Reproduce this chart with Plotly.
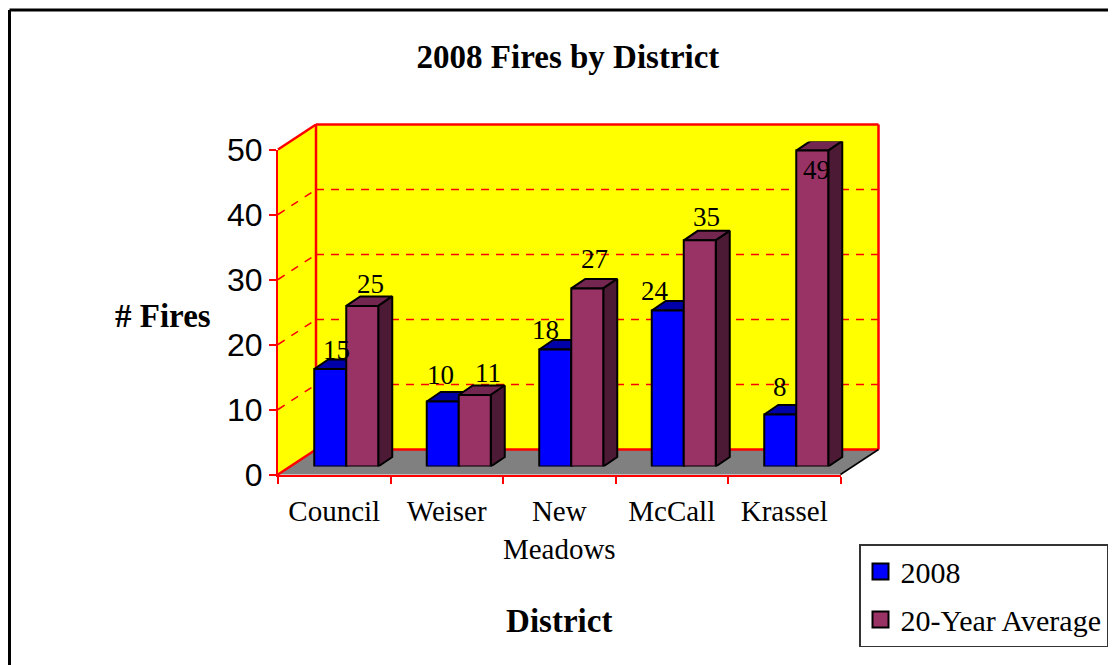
import plotly.graph_objects as go

# the page keeps its default 8px body margin, so the figure is 8px smaller
# and all target pixel positions are shifted by it
PAGE_W, PAGE_H, BODY = 1116, 665, 8
WIDTH, HEIGHT = PAGE_W - BODY, PAGE_H - BODY

districts = ["Council", "Weiser", "New<br>Meadows", "McCall", "Krassel"]
fires_2008 = [15, 10, 18, 24, 8]
fires_avg = [24.7, 11.0, 27.4, 34.8, 48.6]
y_ticks = [0, 10, 20, 30, 40, 50]

# label offsets in px (x, y up), Excel placed these by hand
shift_2008 = [(6, 19), (-2, 27), (-10, 20), (-13, 20), (0, 28)]
shift_avg = [(8, 22), (13, 22), (7, 29), (7, 23), (4, -19)]

SERIF = "Liberation Serif"
BLUE, BLUE_TOP = "#0000ff", "#0000a8"
PLUM, PLUM_TOP, PLUM_SIDE = "#993366", "#722650", "#4d1a36"

# front plane of the axes and the offsets of the fake 3D box, in px
LEFT, RIGHT, BOTTOM, TOP = 278, 840.5, 474.5, 149.5
WALL_DX, WALL_DY = 38, 25
BAR_DX, BAR_DY = 12, 8
DEPTH_X, DEPTH_Y = 14, 9.5

BAR_WIDTH = 32 / ((RIGHT - LEFT) / 5)
unit_x = (RIGHT - LEFT) / 5
unit_y = (BOTTOM - TOP) / 50


def px(x, y):
    return (x - BODY) / WIDTH, 1 - (y - BODY) / HEIGHT


def path(points):
    coords = [px(*p) for p in points]
    return "M" + " L".join(f"{x:.5f},{y:.5f}" for x, y in coords) + " Z"


def line(x0, y0, x1, y1, color="red", width=2.5, dash="solid"):
    a, b = px(x0, y0), px(x1, y1)
    return dict(type="line", xref="paper", yref="paper", layer="below",
                x0=a[0], y0=a[1], x1=b[0], y1=b[1],
                line=dict(color=color, width=width, dash=dash))


def polygon(points, fill, color="rgba(0,0,0,0)", width=0):
    return dict(type="path", xref="paper", yref="paper", layer="below",
                path=path(points), fillcolor=fill,
                line=dict(color=color, width=width))


shapes = [
    polygon([(LEFT, BOTTOM), (LEFT + WALL_DX, BOTTOM - WALL_DY),
             (RIGHT + WALL_DX, BOTTOM - WALL_DY), (RIGHT, BOTTOM)], "#808080"),
    polygon([(LEFT, BOTTOM), (LEFT, TOP), (LEFT + WALL_DX, TOP - WALL_DY),
             (LEFT + WALL_DX, BOTTOM - WALL_DY)], "#ffff00"),
    polygon([(LEFT + WALL_DX, TOP - WALL_DY), (RIGHT + WALL_DX, TOP - WALL_DY),
             (RIGHT + WALL_DX, BOTTOM - WALL_DY), (LEFT + WALL_DX, BOTTOM - WALL_DY)], "#ffff00"),
]

# dashed gridlines on both walls
for tick in y_ticks[1:-1]:
    y = BOTTOM - tick * unit_y
    shapes.append(line(LEFT, y, LEFT + WALL_DX, y - WALL_DY, width=1.5, dash="8px,8px"))
    shapes.append(line(LEFT + WALL_DX, y - WALL_DY, RIGHT + WALL_DX, y - WALL_DY,
                       width=1.5, dash="8px,7px"))

# wall edges
wx, wt, wb = LEFT + WALL_DX, TOP - WALL_DY, BOTTOM - WALL_DY
shapes += [
    line(LEFT, TOP, wx, wt),
    line(wx, wt, RIGHT + WALL_DX, wt),
    line(wx, wt, wx, wb),
    line(RIGHT + WALL_DX, wt, RIGHT + WALL_DX, wb),
    line(wx, wb, RIGHT + WALL_DX, wb),
    line(LEFT, BOTTOM, wx, wb),
    line(RIGHT, BOTTOM, RIGHT + WALL_DX, wb, color="black", width=1.5),
    # chart frame, runs off the page on the right and at the bottom
    line(9.5, 10, PAGE_W, 10, color="black", width=3),
    line(9.5, 10, 9.5, PAGE_H, color="black", width=3),
]

fig = go.Figure()

# keeps the category axis alive, nothing visible
fig.add_trace(go.Scatter(x=districts, y=[0] * len(districts), mode="none",
                         showlegend=False, hoverinfo="skip"))


def add_faces(values, x_offset, top_color, side_color):
    dx, dy = DEPTH_X / unit_x, DEPTH_Y / unit_y
    for i, v in enumerate(values):
        x0 = i + x_offset
        x1 = x0 + BAR_WIDTH
        fig.add_trace(go.Scatter(
            x=[x0, x0 + dx, x1 + dx, x1, x0], y=[v, v + dy, v + dy, v, v],
            fill="toself", fillcolor=top_color, mode="lines",
            line=dict(color="black", width=2), cliponaxis=False,
            showlegend=False, hoverinfo="skip", xaxis="x2", yaxis="y2"))
        fig.add_trace(go.Scatter(
            x=[x1, x1 + dx, x1 + dx, x1, x1], y=[0, dy, v + dy, v, 0],
            fill="toself", fillcolor=side_color, mode="lines",
            line=dict(color="black", width=2), cliponaxis=False,
            showlegend=False, hoverinfo="skip", xaxis="x2", yaxis="y2"))


add_faces(fires_2008, -BAR_WIDTH, BLUE_TOP, BLUE_TOP)
add_faces(fires_avg, 0, PLUM_TOP, PLUM_SIDE)

positions = list(range(len(districts)))
for name, values, color, offset in (("2008", fires_2008, BLUE, -BAR_WIDTH),
                                    ("20-Year Average", fires_avg, PLUM, 0)):
    fig.add_trace(go.Bar(
        name=name, x=positions, y=values, width=BAR_WIDTH, offset=offset,
        marker=dict(color=color, line=dict(color="black", width=2)),
        showlegend=False, xaxis="x3", yaxis="y3"))

# legend entries with bigger swatches than the bar default
for name, color in (("2008", BLUE), ("20-Year Average", PLUM)):
    fig.add_trace(go.Scatter(
        name=name, legendgroup=name, x=[None], y=[None], mode="markers",
        marker=dict(symbol="square", size=16, color=color, line=dict(color="black", width=2))))

annotations = []
for values, shifts, offset in ((fires_2008, shift_2008, -BAR_WIDTH / 2),
                               (fires_avg, shift_avg, BAR_WIDTH / 2)):
    for i, v in enumerate(values):
        annotations.append(dict(
            x=i + offset, y=v, xref="x3", yref="y3", text=f"{v:.0f}", showarrow=False,
            xshift=shifts[i][0], yshift=shifts[i][1], yanchor="middle",
            font=dict(family=SERIF, size=27, color="black")))

title_x, title_y = px(163, 316)
annotations.append(dict(x=title_x, y=title_y, xref="paper", yref="paper", text="<b># Fires</b>",
                        xanchor="center", showarrow=False,
                        font=dict(family=SERIF, size=33, color="black")))

x_domain = [px(LEFT, 0)[0], px(RIGHT, 0)[0]]
y_domain = [px(0, BOTTOM)[1], px(0, TOP)[1]]
bar_x_domain = [px(LEFT + BAR_DX, 0)[0], px(RIGHT + BAR_DX, 0)[0]]
bar_y_domain = [px(0, BOTTOM - BAR_DY)[1], px(0, TOP - BAR_DY)[1]]
hidden = dict(visible=False, fixedrange=True, automargin=False)

fig.update_layout(
    width=WIDTH, height=HEIGHT,
    margin=dict(l=0, r=0, t=0, b=0, pad=0),
    paper_bgcolor="white", plot_bgcolor="rgba(0,0,0,0)",
    barmode="overlay",
    shapes=shapes,
    annotations=annotations,
    title=dict(text="<b>2008 Fires by District</b>", x=px(568, 0)[0], y=px(0, 56)[1],
               xanchor="center", yanchor="middle",
               font=dict(family=SERIF, size=33, color="black")),
    xaxis=dict(domain=x_domain, type="category", automargin=False,
               categoryorder="array", categoryarray=districts, range=[-0.5, 4.5],
               tickson="boundaries", ticks="outside", ticklen=7, tickcolor="red", tickwidth=1.5,
               showline=True, linecolor="red", linewidth=2, showgrid=False,
               tickangle=0, ticklabelstandoff=10,
               tickfont=dict(family=SERIF, size=29, color="black"),
               title=dict(text="<b>District</b>", standoff=45,
                          font=dict(family=SERIF, size=33, color="black"))),
    yaxis=dict(domain=y_domain, range=[0, 50], automargin=False,
               tickvals=y_ticks, ticks="outside", ticklen=7, tickcolor="red", tickwidth=1.5,
               showline=True, linecolor="red", linewidth=2, showgrid=False, zeroline=False,
               tickfont=dict(family="Liberation Sans", size=32, color="black")),
    xaxis2=dict(domain=bar_x_domain, range=[-0.5, 4.5], anchor="y2", **hidden),
    yaxis2=dict(domain=bar_y_domain, range=[0, 50], anchor="x2", **hidden),
    xaxis3=dict(domain=bar_x_domain, range=[-0.5, 4.5], anchor="y3", **hidden),
    yaxis3=dict(domain=bar_y_domain, range=[0, 50], anchor="x3", **hidden),
    legend=dict(x=px(859, 0)[0], y=px(0, 544)[1], xanchor="left", yanchor="top",
                bordercolor="#333333", borderwidth=1.5, bgcolor="white",
                tracegroupgap=6, itemsizing="trace", entrywidth=205, entrywidthmode="pixels",
                font=dict(family=SERIF, size=30, color="black")),
    showlegend=True,
)

fig.write_html("out.html")
